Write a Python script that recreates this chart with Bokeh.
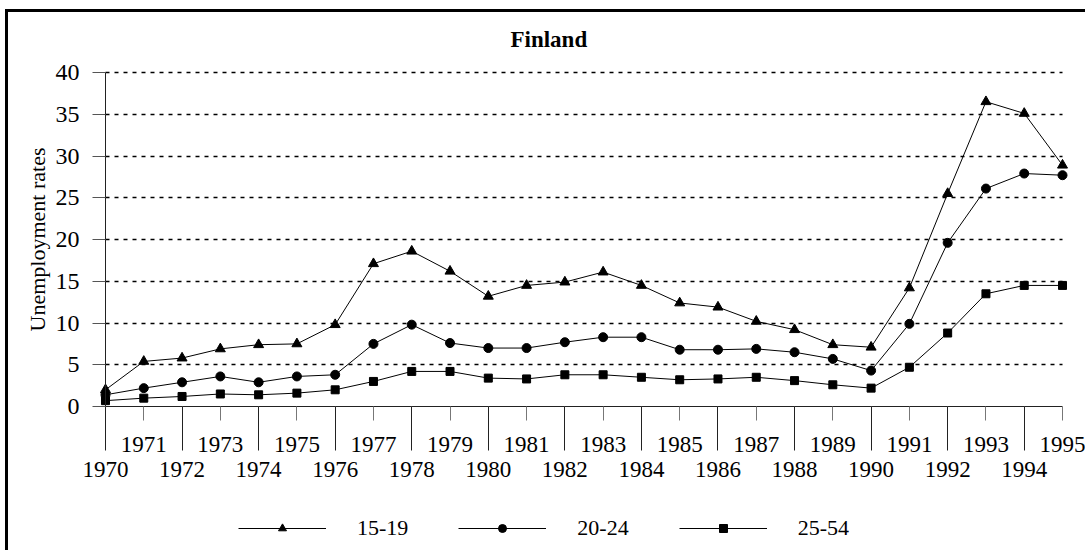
from bokeh.plotting import figure
from bokeh.models import Range1d, FixedTicker, Legend, LegendItem, ColumnDataSource
from bokeh.embed import file_html
from bokeh.resources import INLINE

# ---- data ----
years = list(range(1970, 1996))
rate_15_19 = [2.0, 5.4, 5.8, 6.9, 7.4, 7.5, 9.8, 17.1, 18.6, 16.2, 13.2, 14.5, 14.9,
              16.1, 14.5, 12.4, 11.9, 10.2, 9.2, 7.4, 7.1, 14.2, 25.5, 36.5, 35.1, 28.9]
rate_20_24 = [1.4, 2.2, 2.9, 3.6, 2.9, 3.6, 3.8, 7.5, 9.8, 7.6, 7.0, 7.0, 7.7,
              8.3, 8.3, 6.8, 6.8, 6.9, 6.5, 5.7, 4.3, 9.9, 19.6, 26.1, 27.9, 27.7]
rate_25_54 = [0.7, 1.0, 1.2, 1.5, 1.4, 1.6, 2.0, 3.0, 4.2, 4.2, 3.4, 3.3, 3.8,
              3.8, 3.5, 3.2, 3.3, 3.5, 3.1, 2.6, 2.2, 4.7, 8.8, 13.5, 14.5, 14.5]
series_names = ["15-19", "20-24", "25-54"]
series_markers = ["triangle", "circle", "square"]
series_sizes = [10, 9, 8]
y_ticks = [0, 5, 10, 15, 20, 25, 30, 35, 40]
grid_levels = [5, 10, 15, 20, 25, 30, 35, 40]
title_text = "Finland"
y_label = "Unemployment rates"

FONT = "Liberation Serif"

# ---- layout geometry (pixels) ----
W, H = 1080, 541
BORDER_L, BORDER_R, BORDER_T, BORDER_B = 2, 2, 45, 4
FRAME_W = W - BORDER_L - BORDER_R
AXIS_X0 = 95.0            # px from frame left where the first year sits
AXIS_LEN = 957.0          # px between first and last year
PX_PER_YEAR = AXIS_LEN / (years[-1] - years[0])
X_START = years[0] - AXIS_X0 / PX_PER_YEAR
X_END = X_START + FRAME_W / PX_PER_YEAR

Y_MAX = y_ticks[-1]
PX_PER_UNIT = 334.0 / Y_MAX
Y_TOP = Y_MAX + 15.0 / PX_PER_UNIT       # room above the top tick label
Y_BOTTOM = -(143.0 / PX_PER_UNIT)        # room for the year labels and the legend

p = figure(width=W, height=H, output_backend="svg", toolbar_location=None,
           x_range=Range1d(X_START, X_END), y_range=Range1d(Y_BOTTOM, Y_TOP),
           min_border_left=BORDER_L, min_border_right=BORDER_R,
           min_border_top=BORDER_T, min_border_bottom=BORDER_B)
p.styles = {"border-left": "3px solid black", "border-top": "3px solid black",
            "margin-left": "5px", "margin-top": "9px"}
p.outline_line_color = None
p.background_fill_color = "white"
p.border_fill_color = "white"

# title
p.title.text = title_text
p.title.text_font = FONT
p.title.text_font_size = "23px"
p.title.text_font_style = "bold"
p.title.text_color = "black"
p.title.align = "left"
p.title.offset = 500
p.title.standoff = 12

# y axis, drawn at the first year
yax = p.yaxis[0]
yax.fixed_location = years[0]
yax.ticker = FixedTicker(ticks=y_ticks)
yax.bounds = (0, Y_MAX)
yax.axis_label = y_label
yax.axis_label_text_font = FONT
yax.axis_label_text_font_size = "22px"
yax.axis_label_text_font_style = "normal"
yax.axis_label_text_color = "black"
yax.axis_label_standoff = 3
yax.major_label_text_font = FONT
yax.major_label_text_font_size = "24px"
yax.major_label_text_color = "black"
yax.major_label_standoff = 13
yax.major_tick_out = 13
yax.major_tick_in = 0
yax.minor_tick_out = 0
yax.minor_tick_in = 0
yax.axis_line_color = "#222222"
yax.major_tick_line_color = "#555555"

# x axis, drawn at y = 0
xax = p.xaxis[0]
even_years = [y for y in years if y % 2 == 0]
xax.fixed_location = 0
xax.ticker = FixedTicker(ticks=years, minor_ticks=even_years)
xax.bounds = (years[0], years[-1])
xax.major_label_overrides = {y: (str(y) if y % 2 else "\n" + str(y)) for y in years}
xax.major_label_text_font = FONT
xax.major_label_text_font_size = "23px"
xax.major_label_text_color = "black"
xax.major_label_text_line_height = 1.0
xax.major_label_standoff = -19
xax.major_tick_out = 14
xax.major_tick_in = 0
xax.major_tick_line_color = "#777777"
xax.minor_tick_out = 44
xax.minor_tick_in = 0
xax.minor_tick_line_color = "#222222"
xax.axis_line_color = "#222222"

# grid: dotted horizontal lines between the first and last year
p.xgrid.grid_line_color = None
yg = p.ygrid[0]
if "cross_bounds" in yg.properties():
    yg.ticker = FixedTicker(ticks=grid_levels)
    yg.cross_bounds = (years[0], years[-1])
    yg.grid_line_color = "black"
    yg.grid_line_width = 1.6
    yg.grid_line_dash = "4 5"
else:
    yg.grid_line_color = None
    p.segment(x0=[years[0]] * len(grid_levels), x1=[years[-1]] * len(grid_levels),
              y0=grid_levels, y1=grid_levels, line_color="black", line_width=1.6,
              line_dash="4 5", level="underlay")

src = ColumnDataSource(dict(year=years, a=rate_15_19, b=rate_20_24, c=rate_25_54))
items = []
for col, name, mk, sz in zip(["a", "b", "c"], series_names, series_markers, series_sizes):
    ln = p.line("year", col, source=src, line_color="black", line_width=1)
    # small markers (hidden under the plot markers) give the legend its small symbol
    small = p.scatter("year", col, source=src, marker=mk, size=6,
                      fill_color="black", line_color="black")
    p.scatter("year", col, source=src, marker=mk, size=sz, fill_color="black", line_color="black")
    items.append(LegendItem(label=name, renderers=[ln, small]))

legend = Legend(items=items, orientation="horizontal", location=(228, 8),
                glyph_width=88, glyph_height=20, label_standoff=31, spacing=50,
                padding=0, margin=0, border_line_color=None, background_fill_alpha=0,
                label_text_font=FONT, label_text_font_size="22px", label_text_color="black")
p.add_layout(legend, "center")

open("out.html", "w").write(file_html(p, INLINE))
